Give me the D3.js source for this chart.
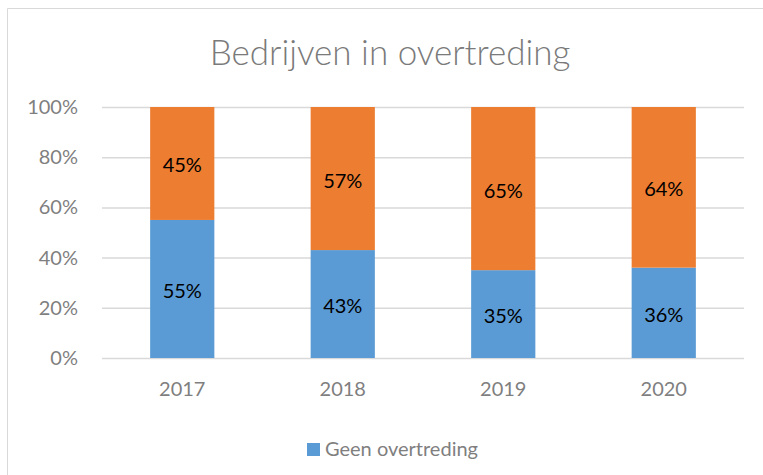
<!DOCTYPE html>
<html>
  <head>
    <meta charset="utf-8">
    <script src="https://d3js.org/d3.v7.min.js"></script>
    <title>Bedrijven in overtreding</title>
    <style>
      body {
        margin: 0px;
        background-color: white;
      }
      text {
        font-family: Lato, 'Open Sans', sans-serif;
      }
      .tick text {
        fill: #7f7f7f;
        font-size: 20px;
      }
      .title {
        fill: #7a7a7a;
        font-size: 35px;
        font-weight: 300;
      }
      .bar-label {
        fill: #000000;
        font-size: 20px;
      }
      .legend-label {
        fill: #7f7f7f;
        font-size: 20px;
      }
    </style>
  </head>
  <body>
    <div id="chart"></div>
    <script>

      // data
      const years = ['2017', '2018', '2019', '2020'];
      const geenOvertreding = [55, 43, 35, 36];
      const inOvertreding = [45, 57, 65, 64];
      const yTicks = [0, 20, 40, 60, 80, 100];
      const titleText = 'Bedrijven in overtreding';
      const legendText = 'Geen overtreding';

      const blue = '#5b9bd5';
      const orange = '#ed7d31';

      const margin = { left: 102, right: 19, top: 107, bottom: 117 };
      const width = 763;
      const height = 475;
      const innerWidth = width - margin.left - margin.right;
      const innerHeight = height - margin.top - margin.bottom;

      const svg = d3.select('#chart').append('svg')
        .attr('width', width)
        .attr('height', height);

      // chart area border (right and bottom edge fall outside the picture)
      svg.append('path')
        .attr('d', `M7.5,${height} V8.5 H${width}`)
        .attr('fill', 'none')
        .attr('stroke', '#d9d9d9')
        .attr('stroke-width', 1);

      svg.append('text')
        .attr('class', 'title')
        .attr('x', 390)
        .attr('y', 65)
        .attr('text-anchor', 'middle')
        .text(titleText);

      const g = svg.append('g')
        .attr('transform', `translate(${margin.left},${margin.top})`);

      const rows = years.map((y, i) => ({ year: y, geen: geenOvertreding[i], wel: inOvertreding[i] }));

      const xScale = d3.scaleBand()
        .domain(years)
        .range([0, innerWidth])
        .paddingInner(0.6)
        .paddingOuter(0.3);

      const yScale = d3.scaleLinear()
        .domain([0, 100])
        .range([innerHeight, 0]);

      // gridlines
      g.selectAll('line.grid').data(yTicks)
        .enter().append('line')
          .attr('class', 'grid')
          .attr('x1', 0)
          .attr('x2', innerWidth)
          .attr('y1', d => yScale(d) + 0.5)
          .attr('y2', d => yScale(d) + 0.5)
          .attr('stroke', '#d9d9d9')
          .attr('stroke-width', 1.5);

      const yAxis = d3.axisLeft(yScale)
        .tickValues(yTicks)
        .tickFormat(d => d + '%')
        .tickSize(0)
        .tickPadding(24);

      const yAxisG = g.append('g').call(yAxis);
      yAxisG.select('.domain').remove();

      const xAxis = d3.axisBottom(xScale)
        .tickSize(0)
        .tickPadding(24);

      const xAxisG = g.append('g')
        .attr('transform', `translate(0,${innerHeight})`)
        .call(xAxis);
      xAxisG.select('.domain').remove();

      // stacked bars
      const stack = d3.stack().keys(['geen', 'wel']);
      const series = stack(rows);
      const colors = { geen: blue, wel: orange };

      const layers = g.selectAll('g.layer').data(series)
        .enter().append('g')
          .attr('class', 'layer')
          .attr('fill', d => colors[d.key]);

      layers.selectAll('rect').data(d => d)
        .enter().append('rect')
          .attr('x', d => xScale(d.data.year))
          .attr('width', xScale.bandwidth())
          .attr('y', d => yScale(d[1]))
          .attr('height', d => yScale(d[0]) - yScale(d[1]));

      layers.selectAll('text').data(d => d)
        .enter().append('text')
          .attr('class', 'bar-label')
          .attr('x', d => xScale(d.data.year) + xScale.bandwidth() / 2)
          .attr('y', d => (yScale(d[0]) + yScale(d[1])) / 2)
          .attr('dy', '0.45em')
          .attr('text-anchor', 'middle')
          .text(d => (d[1] - d[0]) + '%');

      // legend
      const legendG = svg.append('g')
        .attr('transform', 'translate(307,443)');
      legendG.append('rect')
        .attr('width', 13)
        .attr('height', 13)
        .attr('fill', blue);
      legendG.append('text')
        .attr('class', 'legend-label')
        .attr('x', 18)
        .attr('y', 13)
        .text(legendText);

    </script>
  </body>
</html>
